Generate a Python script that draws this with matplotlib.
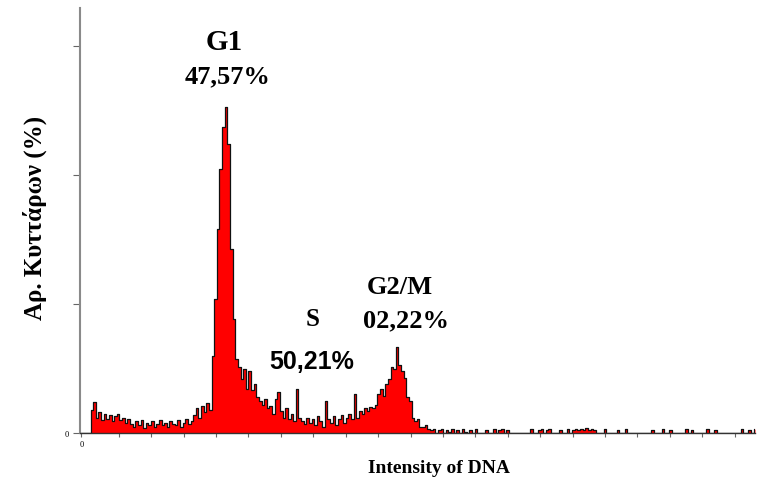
import numpy as np
import matplotlib
matplotlib.use('Agg')
import matplotlib.pyplot as plt

# DNA histogram, one value per channel (0..255)
counts_low = [0, 0, 0, 0, 18, 24, 12, 16, 10, 15, 11, 14, 9, 13, 15, 10, 12, 8, 11,
              7, 5, 9, 6, 10, 4, 8, 6, 9, 5, 7, 10, 6, 8, 5, 9, 7, 6, 10, 5, 8, 11, 7, 9,
              14, 19, 12, 21, 16, 23, 18]
counts_g1 = [60, 104, 158, 205, 237, 253, 224, 143, 88, 57, 51, 42, 50, 34, 48, 33, 38,
             28, 25, 22, 26, 19, 21, 15, 26, 32, 17, 12, 19, 11, 15, 9]
counts_s = [34, 12, 9, 7, 12, 8, 11, 6, 13, 9, 5, 25, 11, 8, 13, 6, 11, 14, 8, 12, 15,
            11, 30, 12, 17, 15, 19, 17, 20, 19, 22, 30, 34, 29, 38, 42]
counts_g2 = [51, 50, 67, 53, 48, 43, 28, 25, 12, 9, 11, 5, 5, 6, 3, 2]
counts_tail = [3, 0, 2, 3, 0, 2, 1, 3, 0, 2, 0, 3, 1, 0, 2, 0, 3, 0, 0, 0, 2, 0, 0, 3,
               0, 2, 3, 0, 2, 0, 0, 0, 0, 0, 0, 0, 0, 3, 0, 0, 2, 3, 0, 2, 3, 0, 0, 0,
               2, 0, 0, 3, 0, 2, 3, 2, 3, 2, 4, 2, 3, 2, 0, 0, 0, 3, 0, 0, 0, 0, 2, 0,
               0, 3, 0, 0, 0, 0, 0, 0, 0, 0, 0, 2, 0, 0, 0, 3, 0, 0, 2, 0, 0, 0, 0, 0,
               3, 0, 2, 0, 0, 0, 0, 0, 3, 0, 0, 2, 0, 0, 0, 0, 0, 0, 0, 0, 0, 3, 0, 0,
               2, 0, 3]
counts = np.array(counts_low + counts_g1 + counts_s + counts_g2 + counts_tail, dtype=float)
channels = np.arange(len(counts))

labels = ['G1', '47,57%', 'S', '50,21%', 'G2/M', '02,22%']

W, H = 761, 485
fig = plt.figure(figsize=(W / 100, H / 100), dpi=100)
ax = fig.add_axes([80 / W, 1 - 434 / H, 675 / W, 425 / H])

ax.fill_between(channels, counts, step='mid', color='#ff0000', lw=0)
ax.step(channels, counts, where='mid', color='#111111', lw=0.9)

ax.set_xlim(-0.5, 256)
ax.set_ylim(0, 329.5)
for s in ['top', 'right']:
    ax.spines[s].set_visible(False)
ax.spines['left'].set_color('#8a8a8a')
ax.spines['left'].set_linewidth(1.5)
ax.spines['bottom'].set_color('#333333')
ax.spines['bottom'].set_linewidth(1.0)

xt = [0] + [1.9 + 12.32 * k for k in range(1, 21)]
ax.set_xticks(xt)
ax.set_xticklabels(['0'] + [''] * 20, fontsize=6, family='Liberation Serif')
ax.set_yticks([0, 100, 200, 300])
ax.set_yticklabels(['0', '', '', ''], fontsize=6, family='Liberation Serif')
ax.tick_params(axis='x', length=3, color='#666666', pad=2)
ax.tick_params(axis='y', length=5, color='#666666', pad=3)

serif = 'Liberation Serif'
def put(x, y, s, size, fam=serif):
    fig.text(x / W, 1 - y / H, s, ha='center', va='center', fontsize=size,
             fontweight='bold', family=fam)

put(224, 42, labels[0], 21)
put(228, 77, labels[1], 19)
put(313, 320, labels[2], 18)
put(312, 362, labels[3], 18, 'Liberation Sans')
put(400, 288, labels[4], 19)
put(406, 321, labels[5], 19)

fig.text(35 / W, 1 - 218 / H, 'Αρ. Κυττάρων (%)', rotation=90, ha='center', va='center',
         fontsize=18, fontweight='bold', family=serif)
fig.text(439 / W, 1 - 469 / H, 'Intensity of DNA', ha='center', va='center',
         fontsize=14, fontweight='bold', family=serif)

fig.savefig('out.png', dpi=100)
